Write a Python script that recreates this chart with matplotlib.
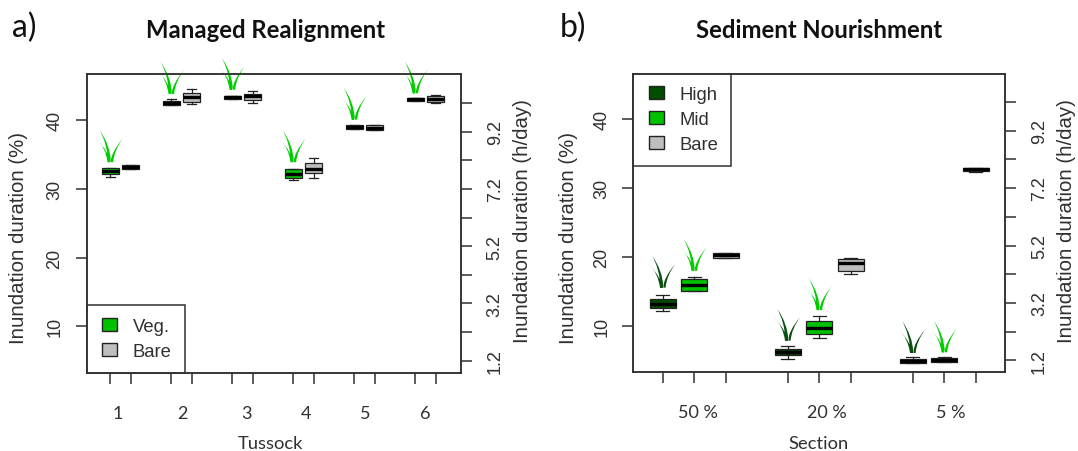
import matplotlib
matplotlib.use("Agg")
import matplotlib.pyplot as plt
from matplotlib.patches import PathPatch, Patch, Rectangle
from matplotlib.legend_handler import HandlerPatch
from matplotlib.path import Path
from matplotlib.transforms import Affine2D, ScaledTranslation

W, H = 1078, 452
DPI = 100

# --- data: panel a (Managed Realignment) ---
tussocks = ["1", "2", "3", "4", "5", "6"]
a_veg_low = [31.75, 42.2, 43.15, 31.3, 38.8, 42.85]
a_veg_q1 = [32.2, 42.2, 43.15, 31.6, 38.8, 42.85]
a_veg_med = [32.6, 42.5, 43.4, 32.2, 39.0, 43.05]
a_veg_q3 = [33.0, 42.77, 43.6, 32.87, 39.3, 43.25]
a_veg_high = [33.0, 43.05, 43.6, 32.9, 39.3, 43.25]
a_bare_low = [32.9, 42.4, 42.5, 31.6, 38.6, 42.45]
a_bare_q1 = [32.9, 42.6, 43.0, 32.3, 38.6, 42.6]
a_bare_med = [33.2, 43.35, 43.5, 32.9, 38.95, 43.15]
a_bare_q3 = [33.5, 44.0, 43.9, 33.8, 39.3, 43.6]
a_bare_high = [33.5, 44.55, 44.2, 34.5, 39.3, 43.7]
a_grass_base = [33.9, 43.83, 44.45, 33.9, 40.1, 43.93]

# --- data: panel b (Sediment Nourishment) ---
sections = ["50 %", "20 %", "5 %"]
b_high_low = [12.13, 5.25, 4.6]
b_high_q1 = [12.57, 5.75, 4.67]
b_high_med = [13.24, 6.2, 4.97]
b_high_q3 = [13.92, 6.7, 5.2]
b_high_top = [14.54, 7.05, 5.5]
b_mid_low = [15.0, 8.3, 4.75]
b_mid_q1 = [15.03, 8.8, 4.8]
b_mid_med = [15.95, 9.75, 5.1]
b_mid_q3 = [16.78, 10.73, 5.4]
b_mid_top = [17.07, 11.5, 5.55]
b_bare_low = [19.85, 17.5, 32.4]
b_bare_q1 = [19.9, 18.0, 32.45]
b_bare_med = [20.3, 19.1, 32.7]
b_bare_q3 = [20.6, 19.7, 32.9]
b_bare_top = [20.6, 19.9, 32.95]
b_high_grass = [15.56, 7.87, 6.08]
b_mid_grass = [18.0, 12.3, 6.18]

pct_ticks = [10, 20, 30, 40]
hour_ticks = [1.2, 2.2, 3.2, 4.2, 5.2, 6.2, 7.2, 8.2, 9.2, 10.2]
hour_labels = ["1.2", "", "3.2", "", "5.2", "", "7.2", "", "9.2", ""]

GREEN = "#00C000"
DARK = "#004d00"
GREY = "#BEBEBE"
GRASS_BRIGHT = "#00CC00"
GRASS_DARK = "#0B4F12"
INK = "#303030"
SANS = "Liberation Sans"
HUM = "Lato"
LW = 1.1

fig = plt.figure(figsize=(W / DPI, H / DPI), dpi=DPI, facecolor="white")


def make_axes(left, right, top, bottom):
    return fig.add_axes([left / W, 1 - bottom / H, (right - left) / W, (bottom - top) / H])


def stats(low, q1, med, q3, high):
    return [dict(whislo=a, q1=b, med=c, q3=d, whishi=e, fliers=[])
            for a, b, c, d, e in zip(low, q1, med, q3, high)]


def boxes(ax, st, pos, width, colour):
    ax.bxp(st, positions=pos, widths=width, patch_artist=True, manage_ticks=False,
           showfliers=False, shownotches=False,
           boxprops=dict(facecolor=colour, edgecolor="#222222", linewidth=0.9),
           medianprops=dict(color="black", linewidth=2.4, solid_capstyle="butt"),
           whiskerprops=dict(color="#222222", linewidth=0.9, linestyle="-"),
           capprops=dict(color="#222222", linewidth=0.9), capwidths=width * 0.5)


BLADES = [
    ((-2.2, 0), (-3.2, 19), (-10.7, 32), (0.0, 17), (0.6, 0)),
    ((-2.8, 0), (-4.5, 14), (-14.0, 24), (-1.0, 9), (-0.4, 0)),
    ((2.8, 0), (3.8, 12), (12.7, 24), (0.8, 10), (0.2, 0)),
]


def grass(ax, x, y, colour):
    verts, codes = [], []
    for p0, c1, tip, c2, p1 in BLADES:
        verts += [p0, c1, tip, c2, p1, p0]
        codes += [Path.MOVETO, Path.CURVE3, Path.CURVE3, Path.CURVE3, Path.CURVE3, Path.CLOSEPOLY]
    tr = Affine2D().scale(DPI / 100) + ScaledTranslation(x, y, ax.transData)
    ax.add_patch(PathPatch(Path(verts, codes), facecolor=colour, edgecolor="none",
                           transform=tr, clip_on=False, zorder=5))


def style(ax, ylim, xticks, xlim, labels, label_pos):
    ax.set_xlim(*xlim)
    ax.set_ylim(*ylim)
    ax.set_xticks(xticks)
    ax.set_xticklabels([])
    ax.set_xticks(label_pos, labels, minor=True, fontfamily=HUM, fontsize=13, color=INK)
    ax.tick_params(axis="x", which="major", length=8, width=LW, color=INK)
    ax.tick_params(axis="x", which="minor", length=0, pad=23)
    ax.set_yticks(pct_ticks)
    ax.set_yticklabels([str(t) for t in pct_ticks], rotation=90, va="center",
                       fontfamily=SANS, fontsize=13, color=INK)
    ax.tick_params(axis="y", length=8, width=LW, color=INK, pad=8.5)
    for s in ax.spines.values():
        s.set_linewidth(LW)
        s.set_color(INK)
    rx = ax.twinx()
    rx.set_ylim(ylim[0] * 0.24, ylim[1] * 0.24)
    rx.set_yticks(hour_ticks)
    rx.set_yticklabels(hour_labels, rotation=90, va="center",
                       fontfamily=SANS, fontsize=13, color=INK)
    rx.tick_params(axis="y", length=8, width=LW, color=INK, pad=10.5)
    for s in rx.spines.values():
        s.set_linewidth(LW)
        s.set_color(INK)


def ylabel(x, y, text):
    fig.text(x / W, 1 - y / H, text, rotation=90, ha="center", va="center",
             fontfamily=SANS, fontsize=14.7, color=INK)


def swatch(legend, orig_handle, xdescent, ydescent, width, height, fontsize):
    # square key, set a little in from the frame as in the original legend
    return Rectangle((-xdescent + 2.2, -ydescent - 0.7), 10.3, height + 1.4)


def legend(ax, loc, anchor, entries):
    handles = [Patch(facecolor=c, edgecolor="#222222", linewidth=1.0, label=t) for t, c in entries]
    ax.legend(handles=handles, loc=loc, bbox_to_anchor=anchor, borderaxespad=0, fancybox=False,
              framealpha=1, edgecolor=INK, prop=dict(family=SANS, size=13.3),
              handlelength=0.94, handleheight=0.55, handletextpad=0.87, labelspacing=0.42,
              borderpad=0.7, labelcolor=INK,
              handler_map={Patch: HandlerPatch(patch_func=swatch)}).get_frame().set_linewidth(LW)


# --- panel a ---
axa = make_axes(86.5, 461, 75, 373.7)
idx_a = list(range(1, len(tussocks) + 1))
veg_x = [i - 0.166 for i in idx_a]
bare_x = [i + 0.166 for i in idx_a]
label_shift_a = [-0.04, 0.014, 0.065, 0.04, 0.017, 0.0]
style(axa, (3.25, 46.74), veg_x + bare_x, (0.443, 6.583), tussocks,
      [i + d for i, d in zip(idx_a, label_shift_a)])
boxes(axa, stats(a_veg_low, a_veg_q1, a_veg_med, a_veg_q3, a_veg_high), veg_x, 0.285, GREEN)
boxes(axa, stats(a_bare_low, a_bare_q1, a_bare_med, a_bare_q3, a_bare_high), bare_x, 0.285, GREY)
for x, y in zip(veg_x, a_grass_base):
    grass(axa, x, y, GRASS_BRIGHT)
legend(axa, "lower left", (0, 0), [("Veg.", GREEN), ("Bare", GREY)])

# --- panel b ---
axb = make_axes(633.3, 1005.3, 74.5, 373.3)
idx_b = list(range(1, len(sections) + 1))
high_x = [i - 0.252 for i in idx_b]
mid_x = list(idx_b)
barex_b = [i + 0.252 for i in idx_b]
label_shift_b = [0.027, 0.063, 0.052]
style(axb, (3.28, 46.62), high_x + mid_x + barex_b, (0.512, 3.488), sections,
      [i + d for i, d in zip(idx_b, label_shift_b)])
boxes(axb, stats(b_high_low, b_high_q1, b_high_med, b_high_q3, b_high_top), high_x, 0.205, DARK)
boxes(axb, stats(b_mid_low, b_mid_q1, b_mid_med, b_mid_q3, b_mid_top), mid_x, 0.205, GREEN)
boxes(axb, stats(b_bare_low, b_bare_q1, b_bare_med, b_bare_q3, b_bare_top), barex_b, 0.205, GREY)
for x, y in zip(high_x, b_high_grass):
    grass(axb, x, y, GRASS_DARK)
for x, y in zip(mid_x, b_mid_grass):
    grass(axb, x, y, GRASS_BRIGHT)
legend(axb, "upper left", (0, 1), [("High", DARK), ("Mid", GREEN), ("Bare", GREY)])

# --- texts ---
ylabel(19, 237.5, "Inundation duration (%)")
ylabel(522, 221, "Inundation duration (h/day)")
ylabel(569, 237.5, "Inundation duration (%)")
ylabel(1067, 221, "Inundation duration (h/day)")
for x, y, t, kw in [(265, 30, "Managed Realignment", dict(fontsize=17.2, fontweight="bold", color="#111111")),
                    (819, 30, "Sediment Nourishment", dict(fontsize=17.2, fontweight="bold", color="#111111")),
                    (24, 28, "a)", dict(fontsize=23, color="#111111")),
                    (573, 28, "b)", dict(fontsize=23, color="#111111")),
                    (271, 444, "Tussock", dict(fontsize=13.2, color=INK)),
                    (819, 444, "Section", dict(fontsize=13.2, color=INK))]:
    fig.text(x / W, 1 - y / H, t, ha="center", va="center", fontfamily=HUM, **kw)

fig.savefig("out.png", dpi=DPI, facecolor="white")
